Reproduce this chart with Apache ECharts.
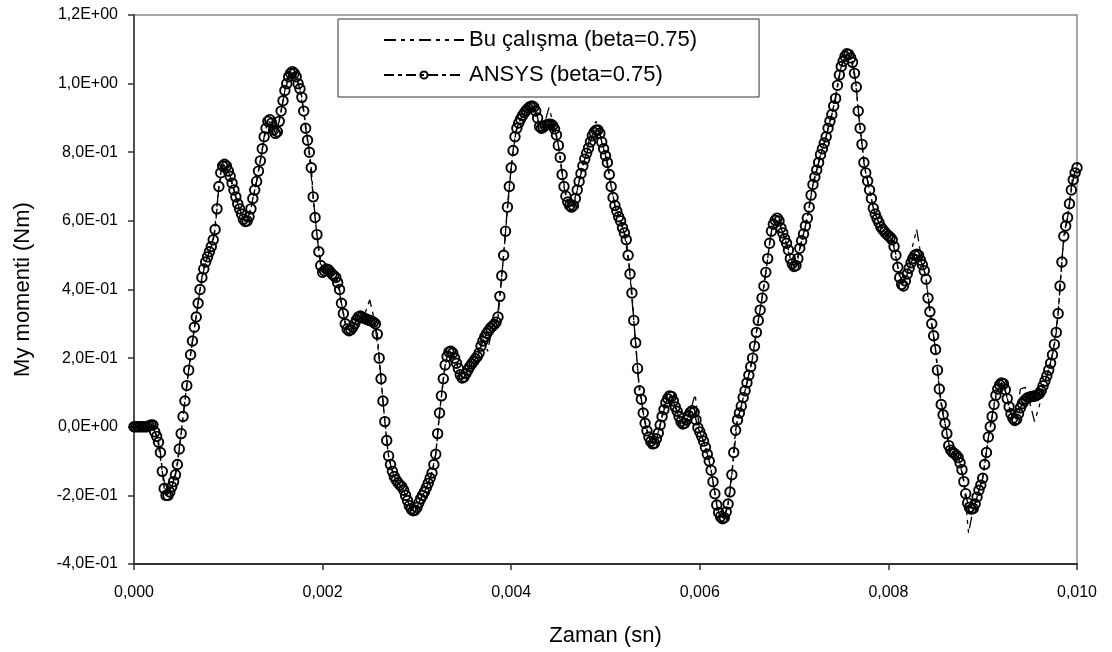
<!DOCTYPE html>
<html>
<head>
<meta charset="utf-8">
<script src="https://cdn.jsdelivr.net/npm/echarts@6/dist/echarts.min.js"></script>
<style>
  html, body { margin: 0; padding: 0; background: #fff; }
  #chart { width: 1112px; height: 652px; }
</style>
</head>
<body>
<div id="chart"></div>
<script>
// time step of each data set (seconds)
const ansysStep = 0.00002;
const buStep = 0.00005;

// ANSYS (beta=0.75), one value every 0.00002 s from 0 to 0.010
const ansysValues = [
  0, 0, 0, 0, 0, 0, 0, 0, 0.003, 0.005,
  0.005, -0.015, -0.028, -0.045, -0.075, -0.13, -0.18, -0.2, -0.2, -0.19,
  -0.175, -0.16, -0.14, -0.11, -0.065, -0.02, 0.03, 0.075, 0.12, 0.165,
  0.21, 0.25, 0.29, 0.32, 0.36, 0.4, 0.435, 0.46, 0.48, 0.495,
  0.51, 0.525, 0.545, 0.575, 0.635, 0.7, 0.74, 0.76, 0.765, 0.76,
  0.745, 0.73, 0.71, 0.69, 0.67, 0.65, 0.635, 0.62, 0.605, 0.598,
  0.6, 0.612, 0.635, 0.665, 0.69, 0.715, 0.745, 0.775, 0.81, 0.845,
  0.87, 0.89, 0.895, 0.885, 0.865, 0.855, 0.86, 0.89, 0.92, 0.95,
  0.98, 1.0, 1.02, 1.03, 1.035, 1.03, 1.02, 1.0, 0.985, 0.96,
  0.92, 0.87, 0.835, 0.8, 0.755, 0.67, 0.61, 0.56, 0.51, 0.47,
  0.45, 0.455, 0.46, 0.458, 0.452, 0.445, 0.44, 0.435, 0.42, 0.4,
  0.36, 0.33, 0.3, 0.285, 0.28, 0.283, 0.29, 0.3, 0.312, 0.32,
  0.323, 0.32, 0.316, 0.314, 0.312, 0.31, 0.308, 0.305, 0.3, 0.27,
  0.2, 0.14, 0.075, 0.015, -0.04, -0.085, -0.11, -0.13, -0.145, -0.155,
  -0.163, -0.17, -0.175, -0.185, -0.2, -0.215, -0.23, -0.24, -0.245, -0.243,
  -0.235, -0.222, -0.21, -0.2, -0.19, -0.178, -0.165, -0.15, -0.135, -0.11,
  -0.08, -0.02, 0.04, 0.09, 0.14, 0.18, 0.205, 0.218, 0.22, 0.215,
  0.2, 0.185, 0.17, 0.152, 0.142, 0.145, 0.155, 0.165, 0.175, 0.183,
  0.19, 0.198, 0.205, 0.215, 0.235, 0.25, 0.262, 0.272, 0.28, 0.288,
  0.293, 0.298, 0.305, 0.32, 0.38, 0.44, 0.5, 0.57, 0.64, 0.7,
  0.755, 0.805, 0.845, 0.87, 0.885, 0.897, 0.907, 0.915, 0.922, 0.928,
  0.933, 0.935, 0.932, 0.92, 0.9, 0.875, 0.87, 0.873, 0.878, 0.88,
  0.882, 0.882, 0.878, 0.868, 0.85, 0.82, 0.785, 0.735, 0.7, 0.672,
  0.655, 0.645, 0.64, 0.645, 0.665, 0.69, 0.715, 0.738, 0.76, 0.78,
  0.797, 0.812, 0.83, 0.848, 0.858, 0.864, 0.865, 0.855, 0.83, 0.81,
  0.79, 0.77, 0.735, 0.7, 0.668, 0.645, 0.628, 0.612, 0.6, 0.58,
  0.565, 0.545, 0.5, 0.445, 0.39, 0.31, 0.245, 0.17, 0.105, 0.08,
  0.04, 0.01, -0.012, -0.03, -0.043, -0.05, -0.048, -0.035, -0.018, 0.005,
  0.03, 0.05, 0.07, 0.082, 0.09, 0.088, 0.075, 0.058, 0.045, 0.03,
  0.015, 0.008, 0.01, 0.02, 0.033, 0.042, 0.047, 0.042, 0.02, -0.003,
  -0.015, -0.028, -0.042, -0.06, -0.08, -0.1, -0.127, -0.16, -0.195, -0.228,
  -0.25, -0.262, -0.268, -0.265, -0.248, -0.225, -0.19, -0.14, -0.075, -0.01,
  0.02, 0.04, 0.06, 0.085, 0.105, 0.128, 0.15, 0.175, 0.2, 0.235,
  0.275, 0.31, 0.34, 0.375, 0.41, 0.45, 0.49, 0.535, 0.57, 0.59,
  0.602, 0.608, 0.6, 0.58, 0.565, 0.548, 0.535, 0.515, 0.49, 0.475,
  0.467, 0.47, 0.49, 0.52, 0.542, 0.562, 0.585, 0.608, 0.64, 0.675,
  0.706, 0.728, 0.748, 0.77, 0.793, 0.81, 0.827, 0.845, 0.87, 0.89,
  0.91, 0.935, 0.957, 0.995, 1.025, 1.05, 1.065, 1.08, 1.087, 1.085,
  1.075, 1.062, 1.03, 0.99, 0.92, 0.87, 0.823, 0.77, 0.74, 0.716,
  0.69, 0.665, 0.637, 0.62, 0.606, 0.595, 0.582, 0.575, 0.568, 0.562,
  0.557, 0.552, 0.545, 0.525, 0.5, 0.465, 0.435, 0.415, 0.41, 0.425,
  0.445, 0.462, 0.478, 0.49, 0.5, 0.503, 0.5, 0.485, 0.472, 0.455,
  0.43, 0.375, 0.335, 0.3, 0.265, 0.225, 0.165, 0.11, 0.065, 0.035,
  0.01, -0.02, -0.055, -0.068, -0.074, -0.078, -0.083, -0.09, -0.105, -0.125,
  -0.16, -0.195, -0.222, -0.235, -0.24, -0.238, -0.225, -0.205, -0.185, -0.17,
  -0.15, -0.11, -0.075, -0.03, 0.0, 0.03, 0.065, 0.092, 0.11, 0.122,
  0.128, 0.125, 0.108, 0.082, 0.058, 0.038, 0.025, 0.018, 0.022, 0.038,
  0.055, 0.067, 0.075, 0.081, 0.085, 0.087, 0.088, 0.089, 0.09, 0.093,
  0.096, 0.105, 0.119, 0.133, 0.148, 0.165, 0.185, 0.21, 0.24, 0.275,
  0.33, 0.41, 0.48, 0.555, 0.585, 0.61, 0.65, 0.69, 0.72, 0.74,
  0.755
];

// Bu çalışma (beta=0.75), one value every 0.00005 s (last point just past 0.010)
const buValues = [
  0, 0, 0, 0, 0.005, -0.035, -0.13, -0.2, -0.175, -0.125,
  -0.02, 0.1, 0.21, 0.305, 0.4, 0.47, 0.51, 0.56, 0.7, 0.765,
  0.745, 0.7, 0.65, 0.612, 0.6, 0.65, 0.715, 0.79, 0.87, 0.892,
  0.855, 0.905, 0.98, 1.025, 1.03, 0.993, 0.92, 0.818, 0.67, 0.535,
  0.45, 0.46, 0.445, 0.43, 0.36, 0.29, 0.283, 0.306, 0.323, 0.33,
  0.37, 0.31, 0.2, 0.045, -0.085, -0.14, -0.163, -0.18, -0.215, -0.243,
  -0.235, -0.205, -0.178, -0.142, -0.08, 0.065, 0.18, 0.22, 0.2, 0.16,
  0.145, 0.17, 0.19, 0.21, 0.27, 0.22, 0.29, 0.31, 0.44, 0.6,
  0.755, 0.86, 0.897, 0.918, 0.933, 0.926, 0.875, 0.88, 0.93, 0.88,
  0.82, 0.72, 0.655, 0.642, 0.69, 0.75, 0.797, 0.87, 0.89, 0.845,
  0.79, 0.718, 0.645, 0.606, 0.565, 0.47, 0.31, 0.14, 0.04, -0.02,
  -0.05, -0.025, 0.03, 0.076, 0.088, 0.05, 0.015, 0.015, 0.045, 0.095,
  -0.015, -0.05, -0.1, -0.178, -0.25, -0.267, -0.225, -0.11, 0.02, 0.072,
  0.128, 0.188, 0.275, 0.358, 0.45, 0.553, 0.602, 0.59, 0.548, 0.502,
  0.467, 0.505, 0.562, 0.624, 0.706, 0.759, 0.81, 0.857, 0.91, 0.976,
  1.05, 1.084, 1.075, 1.01, 0.87, 0.755, 0.69, 0.628, 0.595, 0.572,
  0.557, 0.535, 0.465, 0.412, 0.445, 0.52, 0.575, 0.49, 0.43, 0.318,
  0.225, 0.09, 0.01, -0.062, -0.078, -0.097, -0.16, -0.31, -0.238, -0.195,
  -0.15, -0.05, 0.03, 0.1, 0.128, 0.095, 0.038, 0.03, 0.11, 0.115,
  0.07, 0.015, 0.06, 0.125, 0.165, 0.225, 0.33, 0.52, 0.61, 0.72,
  0.76, 0.8, 0.83
];

const seriesNames = ['Bu çalışma (beta=0.75)', 'ANSYS (beta=0.75)'];
const xTickLabels = ['0,000', '0,002', '0,004', '0,006', '0,008', '0,010'];
const yTickLabels = ['-4,0E-01', '-2,0E-01', '0,0E+00', '2,0E-01', '4,0E-01',
  '6,0E-01', '8,0E-01', '1,0E+00', '1,2E+00'];

const ansysData = ansysValues.map((v, i) => [+(i * ansysStep).toFixed(6), v]);
const buData = buValues.map((v, i) => [+(i * buStep).toFixed(6), v]);

const chart = echarts.init(document.getElementById('chart'), null, { renderer: 'canvas' });

const font = 'Liberation Sans, Arial, sans-serif';

const option = {
  backgroundColor: '#fff',
  animation: false,
  textStyle: { fontFamily: font, color: '#000' },
  grid: {
    left: 134, right: 35, top: 15, bottom: 87,
    show: true, borderColor: '#8a8a8a', borderWidth: 1.5, backgroundColor: '#fff'
  },
  legend: {
    // no marker in the Bu çalışma key, only its dash pattern
    data: [
      { name: seriesNames[0], itemStyle: { color: 'rgba(0,0,0,0)', borderWidth: 0 } },
      { name: seriesNames[1] }
    ],
    orient: 'vertical',
    left: 338, top: 19,
    padding: [10, 62, 11, 45],
    itemGap: 13,
    itemWidth: 80, itemHeight: 9,
    borderColor: '#333', borderWidth: 1,
    backgroundColor: '#fff',
    textStyle: { fontFamily: font, fontSize: 22, color: '#000' }
  },
  xAxis: {
    type: 'value',
    min: 0, max: 0.01, interval: 0.002,
    name: 'Zaman (sn)',
    nameLocation: 'middle', nameGap: 61,
    nameTextStyle: { fontSize: 22, fontFamily: font, color: '#000' },
    axisLine: { onZero: false, lineStyle: { color: '#333', width: 2 } },
    axisTick: { show: true, length: 6, lineStyle: { color: '#333', width: 1.5 } },
    axisLabel: {
      margin: 21, fontSize: 16, color: '#000', fontFamily: font,
      formatter: v => xTickLabels[Math.round(v / 0.002)]
    },
    splitLine: { show: false }
  },
  yAxis: {
    type: 'value',
    min: -0.4, max: 1.2, interval: 0.2,
    name: 'My momenti (Nm)',
    nameLocation: 'middle', nameGap: 100,
    nameTextStyle: { fontSize: 22, fontFamily: font, color: '#000' },
    axisLine: { show: true, onZero: false, lineStyle: { color: '#333', width: 1.5 } },
    axisTick: { show: true, length: 6, lineStyle: { color: '#333', width: 1.5 } },
    axisLabel: {
      margin: 16, fontSize: 16, color: '#000', fontFamily: font,
      formatter: v => yTickLabels[Math.round((v + 0.4) / 0.2)]
    },
    splitLine: { show: false }
  },
  series: [
    {
      name: seriesNames[1],
      type: 'line',
      data: ansysData,
      z: 2,
      showAllSymbol: true,
      symbol: 'circle',
      symbolSize: 9.5,
      itemStyle: { color: 'rgba(255,255,255,0)', borderColor: '#000', borderWidth: 1.9 },
      lineStyle: { color: '#000', width: 1.4, type: [10, 4, 4, 4] }
    },
    {
      name: seriesNames[0],
      type: 'line',
      data: buData,
      z: 3,
      clip: false,
      showSymbol: false,
      symbol: 'none',
      itemStyle: { color: '#000' },
      lineStyle: { color: '#000', width: 1.3, type: [12, 5, 4, 5, 4, 5] }
    }
  ]
};

chart.setOption(option);
</script>
</body>
</html>
